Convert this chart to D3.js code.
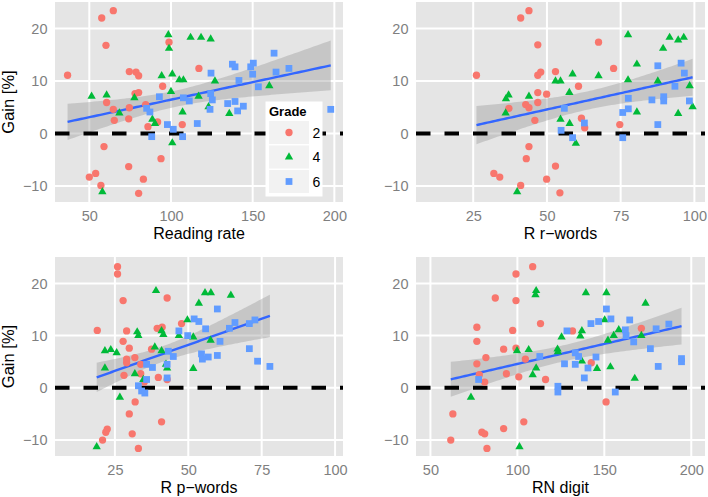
<!DOCTYPE html>
<html>
<head>
<meta charset="utf-8">
<script src="https://cdn.jsdelivr.net/npm/d3@7"></script>
<style>
  body { margin: 0; background: #fff; }
  svg { display: block; font-family: "Liberation Sans", Arial, sans-serif; }
</style>
</head>
<body>
<svg id="chart" width="708" height="497"></svg>
<script>
"use strict";

//categories

const grades = ["2", "4", "6"];
const xTitles = ["Reading rate", "R r\u2212words", "R p\u2212words", "RN digit"];
const yTitle = "Gain [%]";

//tick labels

const ticksRate = [50, 100, 150, 200];
const ticksWords = [25, 50, 75, 100];
const ticksGain = [-10, 0, 10, 20];

//reading rate vs gain

const rate2 = [[36.7, 11.1], [57.6, 22.0], [64.7, 23.4], [60.2, 16.8], [98.8, 17.4], [74.5, 11.8], [78.6, 11.7], [80.2, 11.0], [117.1, 12.4], [94.9, 9.0], [78, 7.6], [80.2, 7.8], [60.6, 5.9], [64.7, 4.6], [74.5, 4.9], [84.5, 5.5], [65.3, 2.5], [74.1, 2.8], [85.9, 1.3], [91.8, 2.2], [106.9, 1.7], [59, -2.5], [50, -8.3], [53.9, -7.6], [57.1, -9.9], [74.1, -6.3], [93.9, -4.8], [83.1, -8.7], [80.2, -11.4]];
const rate4 = [[51.4, 7.1], [60.6, 7.3], [68.4, 3.9], [77.6, 6.8], [98.4, 18.8], [98.8, 16.2], [94.3, 11.0], [100.8, 11.3], [105.1, 10.2], [107.6, 10.2], [100, 8.0], [107.1, 4.1], [88.6, 2.7], [90.2, 1.9], [100.8, -1.8], [58, -11.1], [112, 18.3], [118.4, 18.3], [124.3, 18.0], [126.9, 10.0], [116.9, 7.1], [123, 5.1], [135.7, 3.8], [160.2, 9.1]];
const rate6 = [[92.9, 7.0], [85.1, 4.8], [87.1, 4.1], [97.8, 1.7], [101.4, 0.8], [107.1, -0.6], [88.2, -0.6], [107.6, 6.8], [111.2, 6.2], [116.1, 1.9], [124.5, 11.5], [137.6, 13.2], [139.2, 12.7], [124.3, 7.6], [125.3, 6.4], [123.9, 4.6], [141.6, 10.1], [134.7, 5.7], [139.2, 6.1], [140.8, 4.3], [144.3, 5.2], [148.8, 12.7], [150.4, 13.4], [150, 11.3], [153.5, 8.9], [163.1, 15.3], [164.3, 11.7], [172.2, 12.4], [197.8, 4.6]];

//r-words vs gain

const rWords2 = [[26.1, 11.1], [41.1, 22.0], [43.9, 23.4], [46.9, 16.9], [67.5, 17.4], [46.9, 11.1], [47.9, 11.7], [52.9, 11.8], [72.6, 12.4], [60.7, 9.0], [46.9, 7.8], [49.9, 7.5], [46.9, 5.9], [37.1, 4.8], [42.8, 5.5], [43.9, 4.9], [45.9, 2.5], [61.7, 2.9], [62.8, 1.1], [74.7, 1.7], [43.9, -2.5], [43.0, -4.8], [32.0, -7.6], [34.0, -8.3], [41.1, -9.9], [52.9, -6.2], [49.9, -8.7], [54.4, -11.3]];
const rWords4 = [[36.1, 6.6], [37.0, 7.3], [36.0, 3.9], [43.9, 7.1], [52.9, 10.0], [54.6, 10.0], [54.6, 2.7], [39.9, -11.1], [77.5, 18.8], [80.5, 13.2], [91.6, 18.3], [94.5, 17.8], [96.4, 18.3], [89.4, 16.2], [58.7, 11.3], [67.5, 11.0], [77.5, 10.2], [87.6, 10.0], [98.4, 9.1], [57.6, 7.8], [57.7, 1.9], [59.8, -1.9], [80.5, 4.1], [94.5, 3.8], [99.4, 5.1]];
const rWords6 = [[55.9, 4.8], [54.8, 0.6], [58.7, -0.8], [62.7, 2.0], [75.7, 4.0], [75.7, -0.8], [77.6, 6.7], [77.6, 4.7], [85.6, 6.4], [87.6, 12.9], [89.6, 7.0], [89.6, 6.2], [87.6, 1.7], [93.4, 9.0], [95.5, 13.4], [96.6, 11.5], [98.3, 6.2]];

//p-words vs gain

const pWords2 = [[19.0, 11.0], [25.9, 23.2], [25.9, 21.8], [27.8, 16.7], [42.8, 17.2], [29.0, 10.9], [27.8, 8.9], [29.9, 7.6], [47.7, 12.3], [39.4, 11.4], [41.1, 11.6], [37.5, 7.4], [29.0, 5.5], [29.0, 4.8], [31.8, 5.8], [33.8, 4.5], [28.1, 2.4], [33.8, 2.7], [39.8, 2.0], [42.8, 1.6], [35.0, 1.1], [31.9, -2.7], [29.9, -5.0], [40.9, -6.5], [30.9, -8.8], [22.4, -7.9], [21.9, -8.5], [20.8, -10.0], [33.0, -11.6]];
const pWords4 = [[39.0, 18.6], [53.6, 16.2], [55.7, 18.2], [57.7, 18.2], [64.5, 17.7], [49.7, 13.0], [32.6, 10.7], [33.0, 10.0], [40.9, 10.9], [41.5, 10.2], [46.8, 10.0], [51.7, 9.7], [57.6, 9.1], [21.6, 7.1], [23.6, 7.3], [25.6, 6.7], [38.6, 7.8], [40.9, 7.1], [21.6, 3.8], [31.8, 2.7], [34.7, 1.6], [42.4, 4.5], [42.8, 3.8], [51.7, 3.7], [26.7, -1.8], [18.8, -11.3]];
const pWords6 = [[46.8, 10.9], [49.8, 10.0], [52.0, 13.2], [53.6, 12.7], [59.9, 15.1], [55.9, 11.3], [65.9, 12.5], [64.0, 11.4], [70.8, 12.3], [72.7, 13.0], [60.8, 8.9], [54.5, 6.5], [54.8, 5.5], [56.8, 5.9], [59.9, 6.2], [70.8, 7.5], [73.6, 5.1], [77.8, 4.1], [43.2, 7.0], [44.9, 6.0], [37.8, 3.9], [35.8, 4.5], [42.8, 4.5], [42.8, 1.9], [35.8, 1.6], [33.0, 0.4], [34.1, -0.6], [35.2, -1.0]];

//RN digit vs gain

const digit2 = [[108.8, 23.2], [99.2, 21.8], [87.3, 17.2], [99.2, 16.7], [113.3, 12.3], [76.7, 11.6], [97.3, 11.0], [76.7, 8.9], [92.1, 7.4], [99.2, 7.6], [81.9, 5.8], [104.6, 5.5], [76.7, 4.6], [78.1, 2.5], [81.2, 1.1], [93.7, 2.7], [100.8, 2.1], [116.2, 1.6], [62.9, -5.0], [103.7, -6.5], [79.6, -8.5], [81.2, -8.8], [92.1, -7.8], [61.7, -10.0], [82.5, -11.6], [131.7, 10.9], [142.5, 4.8], [171.3, 11.4], [151.0, -2.7]];
const digit4 = [[110.8, 18.6], [110.4, 17.8], [99.8, 7.1], [106.5, 7.3], [125.4, 9.7], [123.1, 7.4], [123.3, 6.9], [110.8, 3.8], [108.8, 2.5], [73.3, -1.8], [101.2, -11.3], [139.4, 18.2], [151.2, 18.2], [173.7, 16.2], [150.2, 13.0], [137.1, 10.9], [136.2, 9.9], [158.3, 11.1], [155.4, 10.0], [152.1, 9.1], [171.3, 10.0], [137.1, 5.1], [145.8, 3.7], [153.5, 4.0], [167.5, 1.8]];
const digit6 = [[112.9, 6.0], [77.7, 1.6], [123.3, 0.3], [123.3, -0.8], [151.2, 15.1], [142.3, 12.3], [146.7, 12.7], [153.8, 13.2], [164.6, 13.0], [128.5, 10.9], [162.1, 11.1], [162.5, 10.0], [166.9, 8.8], [179.8, 11.3], [187.1, 12.2], [176.5, 7.5], [181.0, 4.1], [194.4, 5.6], [194.4, 5.0], [133.3, 6.7], [135.2, 6.0], [127.1, 4.6], [133.3, 4.5], [145.2, 5.9], [140.6, 3.8], [138.5, 1.9], [156.3, -0.8]];

//styles

const colors = ["#F8766D", "#00BA38", "#619CFF"];
const shapes = [
  d3.symbol().type(d3.symbolCircle).size(42),
  d3.symbol().type(d3.symbolTriangle).size(30),
  d3.symbol().type(d3.symbolSquare).size(46)
];

//panel layout

const panels = [
  { groups: [rate2, rate4, rate6], ticks: ticksRate, domain: [29, 205.3], left: 55, right: 343, top: 2, bottom: 202, yAxisTitle: true, legend: true },
  { groups: [rWords2, rWords4, rWords6], ticks: ticksWords, domain: [5.6, 103.6], left: 416, right: 705, top: 2, bottom: 202 },
  { groups: [pWords2, pWords4, pWords6], ticks: ticksWords, domain: [4.6, 102.7], left: 55, right: 343, top: 257, bottom: 456, yAxisTitle: true },
  { groups: [digit2, digit4, digit6], ticks: ticksRate, domain: [41.7, 207.9], left: 416, right: 705, top: 257, bottom: 456 }
];

const gainDomain = [-13.05, 25.05];

const svg = d3.select("#chart");

//linear fit with 95% band

const fitLine = (pts) => {

  const n = pts.length;
  const mx = d3.mean(pts, (d) => d[0]);
  const my = d3.mean(pts, (d) => d[1]);
  const sxx = d3.sum(pts, (d) => (d[0] - mx) ** 2);
  const b = d3.sum(pts, (d) => (d[0] - mx) * (d[1] - my)) / sxx;
  const a = my - b * mx;
  const s = Math.sqrt(d3.sum(pts, (d) => (d[1] - a - b * d[0]) ** 2) / (n - 2));
  const t = 1.99;
  const [x0, x1] = d3.extent(pts, (d) => d[0]);

  return d3.range(81).map((i) => {
    const x = x0 + (x1 - x0) * i / 80;
    const se = s * Math.sqrt(1 / n + (x - mx) ** 2 / sxx);
    const y = a + b * x;
    return { x, y, lo: y - t * se, hi: y + t * se };
  });

};

//render panel

const renderPanel = (p, i) => {

  const x = d3.scaleLinear().domain(p.domain).range([p.left, p.right]);
  const y = d3.scaleLinear().domain(gainDomain).range([p.bottom, p.top]);

  const g = svg.append("g");

  //background and grid

  g.append("rect")
    .attr("x", p.left)
    .attr("y", p.top)
    .attr("width", p.right - p.left)
    .attr("height", p.bottom - p.top)
    .attr("fill", "#E5E5E5");

  g.selectAll(".grid-x")
    .data(p.ticks)
    .enter()
    .append("line")
    .attr("x1", (d) => x(d))
    .attr("x2", (d) => x(d))
    .attr("y1", p.top)
    .attr("y2", p.bottom)
    .attr("stroke", "#fff")
    .attr("stroke-width", 2);

  g.selectAll(".grid-y")
    .data(ticksGain)
    .enter()
    .append("line")
    .attr("x1", p.left)
    .attr("x2", p.right)
    .attr("y1", (d) => y(d))
    .attr("y2", (d) => y(d))
    .attr("stroke", "#fff")
    .attr("stroke-width", 2);

  //axes

  const xAxis = g.append("g")
    .attr("transform", `translate(0, ${p.bottom})`)
    .call(d3.axisBottom(x).tickValues(p.ticks).tickSize(0).tickPadding(8.5).tickFormat(d3.format("d")));

  const yAxis = g.append("g")
    .attr("transform", `translate(${p.left}, 0)`)
    .call(d3.axisLeft(y).tickValues(ticksGain).tickSize(0).tickPadding(7.5).tickFormat(d3.format("d")));

  [xAxis, yAxis].forEach((ax) => {
    ax.select(".domain").remove();
    ax.selectAll("text")
      .attr("fill", "#7F7F7F")
      .style("font-size", "14.5px")
      .style("font-family", "Liberation Sans, Arial, sans-serif");
  });

  g.append("text")
    .attr("x", (p.left + p.right) / 2)
    .attr("y", p.bottom + 36.6)
    .attr("text-anchor", "middle")
    .style("font-size", "16px")
    .text(xTitles[i]);

  if (p.yAxisTitle) {
    g.append("text")
      .attr("transform", `translate(13.5, ${(p.top + p.bottom) / 2}) rotate(-90)`)
      .attr("text-anchor", "middle")
      .style("font-size", "16.5px")
      .text(yTitle);
  }

  //smooth

  const fit = fitLine(p.groups.flat());

  g.append("path")
    .datum(fit)
    .attr("d", d3.area().x((d) => x(d.x)).y0((d) => y(d.lo)).y1((d) => y(d.hi)))
    .attr("fill", "#999999")
    .attr("fill-opacity", 0.4);

  g.append("path")
    .datum(fit)
    .attr("d", d3.line().x((d) => x(d.x)).y((d) => y(d.y)))
    .attr("fill", "none")
    .attr("stroke", "#3366FF")
    .attr("stroke-width", 2.4);

  //zero line

  g.append("line")
    .attr("x1", p.left)
    .attr("x2", p.right)
    .attr("y1", y(0))
    .attr("y2", y(0))
    .attr("stroke", "#000")
    .attr("stroke-width", 4)
    .attr("stroke-dasharray", "14.5,14");

  //points

  p.groups.forEach((pts, k) => {
    g.selectAll(null)
      .data(pts)
      .enter()
      .append("path")
      .attr("transform", (d) => `translate(${x(d[0])}, ${y(d[1])})`)
      .attr("d", shapes[k])
      .attr("fill", colors[k]);
  });

  if (p.legend) renderLegend(g);

};

//legend

const renderLegend = (g) => {

  const lg = g.append("g").attr("transform", "translate(265.5, 101.5)");

  lg.append("rect")
    .attr("width", 57)
    .attr("height", 95)
    .attr("fill", "#fff");

  lg.append("text")
    .attr("x", 3.5)
    .attr("y", 14)
    .style("font-size", "13px")
    .style("font-weight", "bold")
    .text("Grade");

  const rows = lg.selectAll(".key")
    .data(grades)
    .enter()
    .append("g")
    .attr("transform", (d, k) => `translate(3.5, ${19.5 + k * 24.5})`);

  rows.append("rect")
    .attr("width", 40)
    .attr("height", 23)
    .attr("fill", "#F2F2F2");

  rows.append("path")
    .attr("transform", "translate(20, 11.5)")
    .attr("d", (d, k) => shapes[k]())
    .attr("fill", (d, k) => colors[k]);

  rows.append("text")
    .attr("x", 43.5)
    .attr("y", 16.5)
    .style("font-size", "14px")
    .text((d) => d);

};

panels.forEach(renderPanel);
</script>
</body>
</html>
